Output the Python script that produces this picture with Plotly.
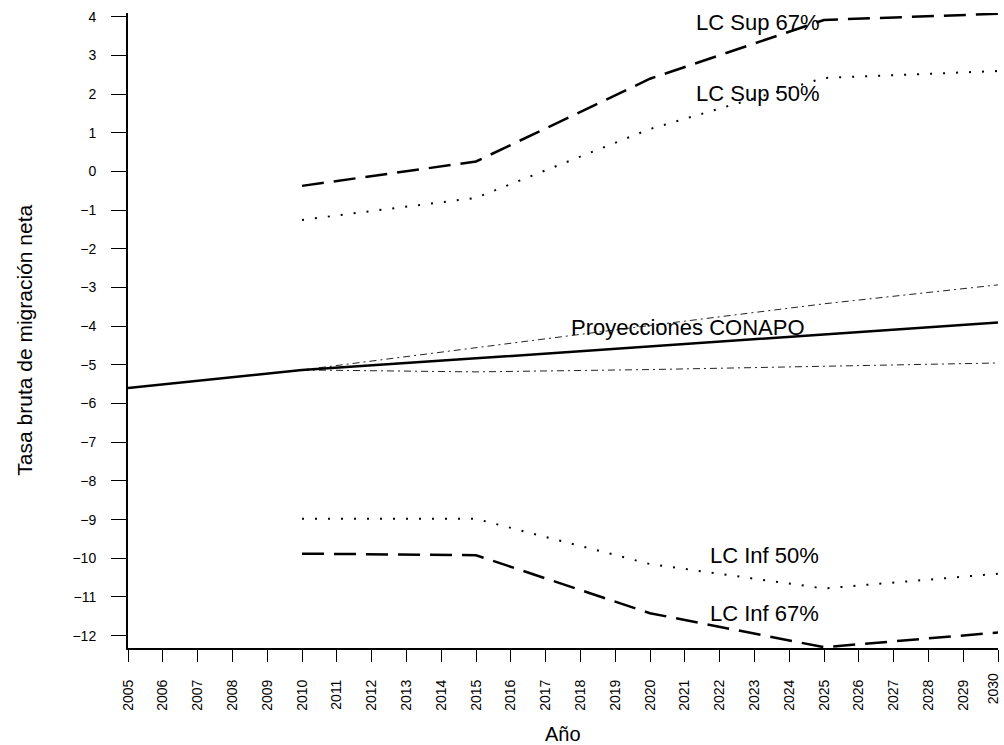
import plotly.graph_objects as go

years_all = [2005, 2010, 2015, 2020, 2025, 2030]
years_proj = [2010, 2015, 2020, 2025, 2030]

conapo = [-5.6, -5.13, -4.83, -4.52, -4.21, -3.9]
conapo_up = [-5.13, -4.55, -3.98, -3.42, -2.93]
conapo_low = [-5.13, -5.18, -5.12, -5.03, -4.95]
lc_sup67 = [-0.37, 0.26, 2.4, 3.92, 4.08]
lc_sup50 = [-1.25, -0.68, 1.1, 2.42, 2.6]
lc_inf50 = [-8.98, -8.98, -10.15, -10.78, -10.4]
lc_inf67 = [-9.88, -9.92, -11.42, -12.3, -11.92]

x_ticks = list(range(2005, 2031))
x_ticktext = [str(v) for v in x_ticks]
y_ticks = list(range(-12, 5))

labels = [
    ("LC Sup 67%", 2023.1, 3.86),
    ("LC Sup 50%", 2023.1, 2.03),
    ("Proyecciones CONAPO", 2021.1, -4.02),
    ("LC Inf 50%", 2023.3, -9.94),
    ("LC Inf 67%", 2023.3, -11.44),
]

FONT = "Liberation Sans, Arial, Helvetica, sans-serif"

fig = go.Figure()

def add(x, y, dash, width, color="black"):
    fig.add_trace(go.Scatter(x=x, y=y, mode="lines",
                             line=dict(color=color, width=width, dash=dash),
                             showlegend=False, hoverinfo="skip"))

add(years_proj, conapo_up, "7px,4px,2px,4px", 1, "#222")
add(years_proj, conapo_low, "7px,4px,2px,4px", 1, "#222")
add(years_all, conapo, "solid", 2.5)
add(years_proj, lc_sup67, "22px,10px", 2.5)
add(years_proj, lc_sup50, "2px,11px", 2)
add(years_proj, lc_inf50, "2px,11px", 2)
add(years_proj, lc_inf67, "22px,10px", 2.5)

for txt, xx, yy in labels:
    fig.add_annotation(x=xx, y=yy, text=txt, showarrow=False,
                       xanchor="center", yanchor="middle",
                       font=dict(family=FONT, size=22, color="black"))

# last x tick label drawn separately so it stays inside the page
fig.add_annotation(x=x_ticks[-1], xref="x", y=-0.0375, yref="paper",
                   text=x_ticktext[-1], textangle=-90, showarrow=False,
                   xanchor="right", yanchor="top", xshift=5,
                   font=dict(family=FONT, size=14, color="black"))

# axis titles
fig.add_annotation(xref="paper", yref="paper", x=0.5, y=-0.135, text="Año",
                   showarrow=False, xanchor="center", yanchor="middle",
                   font=dict(family=FONT, size=20, color="black"))
fig.add_annotation(xref="paper", yref="paper", x=-0.12, y=0.485,
                   text="Tasa bruta de migración neta", textangle=-90,
                   showarrow=False, xanchor="center", yanchor="middle",
                   font=dict(family=FONT, size=21, color="black"))

fig.update_layout(
    width=1004, height=745,
    margin=dict(l=128, r=6, t=13, b=97, autoexpand=False),
    paper_bgcolor="white", plot_bgcolor="white",
    font=dict(family=FONT, color="black"),
    showlegend=False,
)

fig.update_xaxes(
    range=[2005, 2030], tickmode="array", tickvals=x_ticks,
    ticktext=x_ticktext[:-1] + [""], tickangle=-90,
    ticks="outside", ticklen=12, tickwidth=1, tickcolor="black",
    showline=True, linewidth=2, linecolor="black",
    showgrid=False, zeroline=False, automargin=False,
    tickfont=dict(family=FONT, size=14, color="black"),
    ticklabelstandoff=12, ticklabeloverflow="allow",
)
fig.update_yaxes(
    range=[-12.32, 4.1], tickmode="array", tickvals=y_ticks,
    ticks="outside", ticklen=15, tickwidth=1, tickcolor="black",
    showline=True, linewidth=2, linecolor="black",
    showgrid=False, zeroline=False, automargin=False,
    tickfont=dict(family=FONT, size=14, color="black"),
    ticklabelstandoff=12,
)

fig.write_html("out.html")
